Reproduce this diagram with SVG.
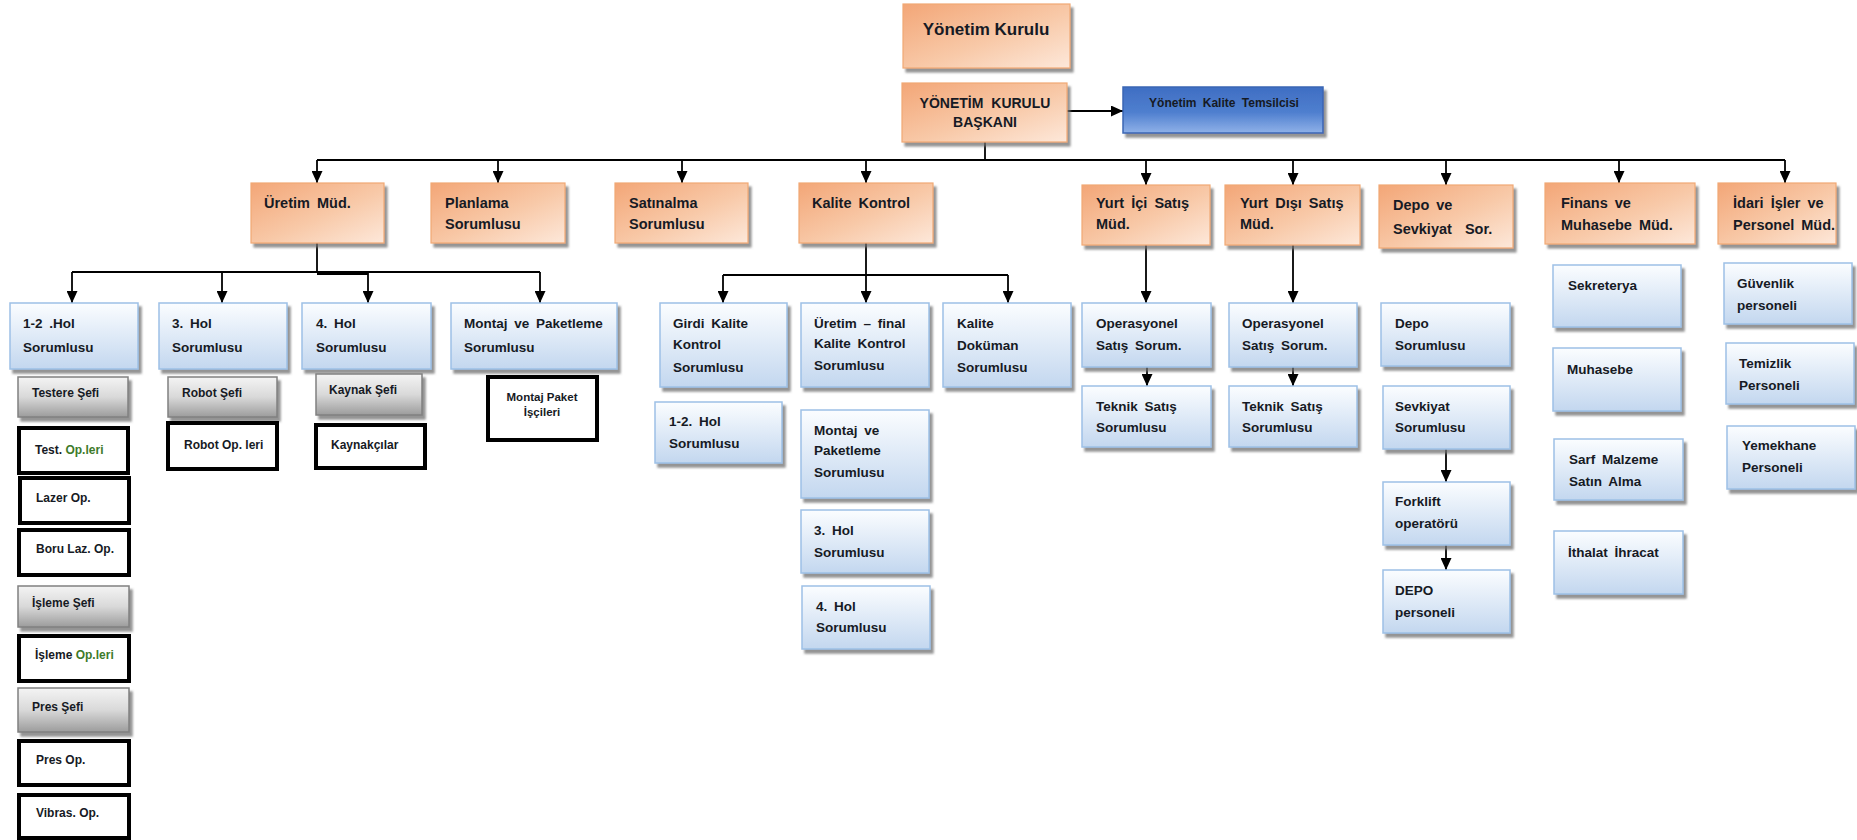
<svg xmlns="http://www.w3.org/2000/svg" width="1857" height="840" viewBox="0 0 1857 840">
<defs>
<linearGradient id="gOr" x1="0" y1="0" x2="1" y2="1">
<stop offset="0" stop-color="#f3a677"/>
<stop offset="0.55" stop-color="#f8c9a8"/>
<stop offset="1" stop-color="#fde8da"/>
</linearGradient>
<linearGradient id="gBl" x1="0" y1="0" x2="0" y2="1">
<stop offset="0" stop-color="#fbfdff"/>
<stop offset="1" stop-color="#c3d7ef"/>
</linearGradient>
<linearGradient id="gGr" x1="0" y1="0" x2="0" y2="1">
<stop offset="0" stop-color="#f4f4f4"/>
<stop offset="0.5" stop-color="#d9d9d9"/>
<stop offset="1" stop-color="#9c9c9c"/>
</linearGradient>
<linearGradient id="gDb" x1="0" y1="0" x2="0" y2="1">
<stop offset="0" stop-color="#3f6ec3"/>
<stop offset="0.55" stop-color="#4f7fcf"/>
<stop offset="1" stop-color="#8fb1e8"/>
</linearGradient>
<filter id="sh" x="-10%" y="-10%" width="130%" height="140%">
<feDropShadow dx="3" dy="4" stdDeviation="1.2" flood-color="#6f6f6f" flood-opacity="0.75"/>
</filter>
<marker id="ar" viewBox="0 0 12 11" refX="12" refY="5.5" markerUnits="userSpaceOnUse" markerWidth="12" markerHeight="11" orient="auto">
<path d="M0,0 L12,5.5 L0,11 z" fill="#000"/>
</marker>
<style>
text{font-family:"Liberation Sans",Arial,sans-serif;font-weight:bold;fill:#161a24}
.or{fill:url(#gOr);stroke:#f1a874;stroke-width:1.2;filter:url(#sh)}
.bl{fill:url(#gBl);stroke:#9dc0e6;stroke-width:1.5;filter:url(#sh)}
.gr{fill:url(#gGr);stroke:#808080;stroke-width:1.5;filter:url(#sh)}
.bk{fill:#fff;stroke:#000;stroke-width:4}
.db{fill:url(#gDb);stroke:#3a66b4;stroke-width:1.5;filter:url(#sh)}
.to{font-size:14.5px;word-spacing:3px}
.tb{font-size:13.5px;word-spacing:3px}
.ts{font-size:12px}
.c{stroke:#000;stroke-width:1.8;fill:none}
.ca{stroke:#000;stroke-width:1.8;fill:none;marker-end:url(#ar)}
</style>
</defs>

<g id="connectors">
<line class="ca" x1="1067" y1="111" x2="1123" y2="111"/>
<line class="c" x1="985" y1="142" x2="985" y2="160"/>
<line class="c" x1="317" y1="160" x2="1785" y2="160"/>
<line class="ca" x1="317" y1="160" x2="317" y2="183"/>
<line class="ca" x1="498" y1="160" x2="498" y2="183"/>
<line class="ca" x1="682" y1="160" x2="682" y2="183"/>
<line class="ca" x1="866" y1="160" x2="866" y2="183"/>
<line class="ca" x1="1146" y1="160" x2="1146" y2="185"/>
<line class="ca" x1="1293" y1="160" x2="1293" y2="185"/>
<line class="ca" x1="1446" y1="160" x2="1446" y2="185"/>
<line class="ca" x1="1619" y1="160" x2="1619" y2="183"/>
<line class="ca" x1="1785" y1="160" x2="1785" y2="183"/>
<line class="c" x1="317" y1="243" x2="317" y2="272"/>
<line class="c" x1="72" y1="272" x2="540" y2="272"/>
<line class="c" x1="317" y1="274" x2="368" y2="274"/>
<line class="ca" x1="72" y1="272" x2="72" y2="303"/>
<line class="ca" x1="222" y1="272" x2="222" y2="303"/>
<line class="ca" x1="368" y1="272" x2="368" y2="303"/>
<line class="ca" x1="540" y1="272" x2="540" y2="303"/>
<line class="c" x1="866" y1="243" x2="866" y2="275"/>
<line class="c" x1="723" y1="275" x2="1008" y2="275"/>
<line class="ca" x1="723" y1="275" x2="723" y2="303"/>
<line class="ca" x1="866" y1="275" x2="866" y2="303"/>
<line class="ca" x1="1008" y1="275" x2="1008" y2="303"/>
<line class="ca" x1="1146" y1="245" x2="1146" y2="303"/>
<line class="ca" x1="1293" y1="245" x2="1293" y2="303"/>
<line class="ca" x1="1147" y1="367" x2="1147" y2="386"/>
<line class="ca" x1="1293" y1="367" x2="1293" y2="386"/>
<line class="ca" x1="1446" y1="449" x2="1446" y2="482"/>
<line class="ca" x1="1446" y1="545" x2="1446" y2="570"/>
</g>

<g id="yonetim-kurulu"><rect class="or" x="903" y="4" width="167" height="64"/><text x="986" y="35" text-anchor="middle" font-size="17">Yönetim Kurulu</text></g>
<g id="baskan"><rect class="or" x="902" y="83" width="165" height="59"/><text x="985" y="108" text-anchor="middle" font-size="14" word-spacing="4"><tspan x="985">YÖNETİM KURULU</tspan><tspan x="985" y="127">BAŞKANI</tspan></text></g>
<g id="kalite-temsilcisi"><rect class="db" x="1123" y="87" width="200" height="46"/><text x="1224" y="107" text-anchor="middle" font-size="12" word-spacing="3">Yönetim Kalite Temsilcisi</text></g>

<g id="uretim-mud"><rect class="or" x="251" y="183" width="133" height="60"/><text class="to" x="264" y="208">Üretim Müd.</text></g>
<g id="planlama"><rect class="or" x="431" y="183" width="134" height="60"/><text class="to" x="445" y="208">Planlama<tspan x="445" y="229">Sorumlusu</tspan></text></g>
<g id="satinalma"><rect class="or" x="615" y="183" width="133" height="60"/><text class="to" x="629" y="208">Satınalma<tspan x="629" y="229">Sorumlusu</tspan></text></g>
<g id="kalite-kontrol"><rect class="or" x="799" y="183" width="134" height="60"/><text class="to" x="812" y="208">Kalite Kontrol</text></g>
<g id="yurt-ici"><rect class="or" x="1082" y="185" width="128" height="60"/><text class="to" x="1096" y="208">Yurt İçi Satış<tspan x="1096" y="229">Müd.</tspan></text></g>
<g id="yurt-disi"><rect class="or" x="1225" y="185" width="135" height="60"/><text class="to" x="1240" y="208">Yurt Dışı Satış<tspan x="1240" y="229">Müd.</tspan></text></g>
<g id="depo-sevkiyat"><rect class="or" x="1379" y="185" width="134" height="63"/><text class="to" x="1393" y="210">Depo ve<tspan x="1393" y="234" word-spacing="9">Sevkiyat Sor.</tspan></text></g>
<g id="finans"><rect class="or" x="1545" y="183" width="150" height="61"/><text class="to" x="1561" y="208">Finans ve<tspan x="1561" y="230">Muhasebe Müd.</tspan></text></g>
<g id="idari"><rect class="or" x="1718" y="183" width="118" height="61"/><text class="to" x="1733" y="208">İdari İşler ve<tspan x="1733" y="230">Personel Müd.</tspan></text></g>

<g id="hol12"><rect class="bl" x="10" y="303" width="128" height="66"/><text class="tb" x="23" y="328">1-2 .Hol<tspan x="23" y="352">Sorumlusu</tspan></text></g>
<g id="hol3"><rect class="bl" x="159" y="303" width="128" height="66"/><text class="tb" x="172" y="328">3. Hol<tspan x="172" y="352">Sorumlusu</tspan></text></g>
<g id="hol4"><rect class="bl" x="302" y="303" width="129" height="66"/><text class="tb" x="316" y="328">4. Hol<tspan x="316" y="352">Sorumlusu</tspan></text></g>
<g id="montaj-paketleme"><rect class="bl" x="451" y="303" width="166" height="66"/><text class="tb" x="464" y="328">Montaj ve Paketleme<tspan x="464" y="352">Sorumlusu</tspan></text></g>

<g id="testere-sefi"><rect class="gr" x="18" y="377" width="110" height="40"/><text class="ts" x="32" y="397">Testere Şefi</text></g>
<g id="test-opleri"><rect class="bk" x="19" y="428" width="109" height="45"/><text class="ts" x="35" y="454">Test. <tspan fill="#3d7a2a">Op.leri</tspan></text></g>
<g id="lazer-op"><rect class="bk" x="20" y="478" width="109" height="45"/><text class="ts" x="36" y="502">Lazer Op.</text></g>
<g id="boru-laz-op"><rect class="bk" x="19" y="530" width="110" height="45"/><text class="ts" x="36" y="553">Boru Laz. Op.</text></g>
<g id="isleme-sefi"><rect class="gr" x="18" y="586" width="111" height="41"/><text class="ts" x="32" y="607">İşleme Şefi</text></g>
<g id="isleme-opleri"><rect class="bk" x="19" y="636" width="110" height="45"/><text class="ts" x="35" y="659">İşleme <tspan fill="#3d7a2a">Op.leri</tspan></text></g>
<g id="pres-sefi"><rect class="gr" x="18" y="688" width="111" height="44"/><text class="ts" x="32" y="711">Pres Şefi</text></g>
<g id="pres-op"><rect class="bk" x="19" y="741" width="110" height="44"/><text class="ts" x="36" y="764">Pres Op.</text></g>
<g id="vibras-op"><rect class="bk" x="19" y="795" width="110" height="43"/><text class="ts" x="36" y="817">Vibras. Op.</text></g>

<g id="robot-sefi"><rect class="gr" x="168" y="377" width="109" height="40"/><text class="ts" x="182" y="397">Robot Şefi</text></g>
<g id="robot-opleri"><rect class="bk" x="168" y="423" width="109" height="46"/><text class="ts" x="184" y="449">Robot Op. leri</text></g>
<g id="kaynak-sefi"><rect class="gr" x="316" y="374" width="106" height="41"/><text class="ts" x="329" y="394">Kaynak Şefi</text></g>
<g id="kaynakcilar"><rect class="bk" x="316" y="425" width="109" height="43"/><text class="ts" x="331" y="449">Kaynakçılar</text></g>
<g id="montaj-paket-iscileri"><rect class="bk" x="488" y="377" width="109" height="63"/><text x="542" y="401" text-anchor="middle" font-size="11.5">Montaj Paket<tspan x="542" y="416">İşçileri</tspan></text></g>

<g id="girdi-kalite"><rect class="bl" x="660" y="303" width="127" height="84"/><text class="tb" x="673" y="328">Girdi Kalite<tspan x="673" y="349">Kontrol</tspan><tspan x="673" y="372">Sorumlusu</tspan></text></g>
<g id="uretim-final"><rect class="bl" x="801" y="303" width="128" height="84"/><text class="tb" x="814" y="328" word-spacing="2">Üretim – final<tspan x="814" y="348">Kalite Kontrol</tspan><tspan x="814" y="370">Sorumlusu</tspan></text></g>
<g id="kalite-dokuman"><rect class="bl" x="943" y="303" width="128" height="84"/><text class="tb" x="957" y="328">Kalite<tspan x="957" y="350">Doküman</tspan><tspan x="957" y="372">Sorumlusu</tspan></text></g>
<g id="kk-hol12"><rect class="bl" x="655" y="402" width="127" height="61"/><text class="tb" x="669" y="426">1-2. Hol<tspan x="669" y="448">Sorumlusu</tspan></text></g>
<g id="kk-montaj"><rect class="bl" x="801" y="410" width="128" height="88"/><text class="tb" x="814" y="435">Montaj ve<tspan x="814" y="455">Paketleme</tspan><tspan x="814" y="477">Sorumlusu</tspan></text></g>
<g id="kk-hol3"><rect class="bl" x="801" y="510" width="128" height="63"/><text class="tb" x="814" y="535">3. Hol<tspan x="814" y="557">Sorumlusu</tspan></text></g>
<g id="kk-hol4"><rect class="bl" x="802" y="586" width="128" height="63"/><text class="tb" x="816" y="611">4. Hol<tspan x="816" y="632">Sorumlusu</tspan></text></g>

<g id="op-satis-1"><rect class="bl" x="1082" y="303" width="129" height="64"/><text class="tb" x="1096" y="328">Operasyonel<tspan x="1096" y="350">Satış Sorum.</tspan></text></g>
<g id="teknik-satis-1"><rect class="bl" x="1082" y="386" width="129" height="61"/><text class="tb" x="1096" y="411" word-spacing="8">Teknik Satış<tspan x="1096" y="432" word-spacing="3">Sorumlusu</tspan></text></g>
<g id="op-satis-2"><rect class="bl" x="1229" y="303" width="128" height="64"/><text class="tb" x="1242" y="328">Operasyonel<tspan x="1242" y="350">Satış Sorum.</tspan></text></g>
<g id="teknik-satis-2"><rect class="bl" x="1229" y="386" width="128" height="61"/><text class="tb" x="1242" y="411" word-spacing="8">Teknik Satış<tspan x="1242" y="432" word-spacing="3">Sorumlusu</tspan></text></g>

<g id="depo-sorumlusu"><rect class="bl" x="1381" y="303" width="129" height="63"/><text class="tb" x="1395" y="328">Depo<tspan x="1395" y="350">Sorumlusu</tspan></text></g>
<g id="sevkiyat-sorumlusu"><rect class="bl" x="1383" y="386" width="127" height="63"/><text class="tb" x="1395" y="411">Sevkiyat<tspan x="1395" y="432">Sorumlusu</tspan></text></g>
<g id="forklift"><rect class="bl" x="1383" y="482" width="127" height="63"/><text class="tb" x="1395" y="506">Forklift<tspan x="1395" y="528">operatörü</tspan></text></g>
<g id="depo-personeli"><rect class="bl" x="1383" y="570" width="127" height="63"/><text class="tb" x="1395" y="595">DEPO<tspan x="1395" y="617">personeli</tspan></text></g>

<g id="sekreterya"><rect class="bl" x="1553" y="265" width="128" height="62"/><text class="tb" x="1568" y="290">Sekreterya</text></g>
<g id="muhasebe"><rect class="bl" x="1553" y="348" width="128" height="63"/><text class="tb" x="1567" y="374">Muhasebe</text></g>
<g id="sarf-malzeme"><rect class="bl" x="1554" y="439" width="129" height="61"/><text class="tb" x="1569" y="464" word-spacing="4">Sarf Malzeme<tspan x="1569" y="486">Satın Alma</tspan></text></g>
<g id="ithalat"><rect class="bl" x="1554" y="531" width="129" height="63"/><text class="tb" x="1568" y="557" word-spacing="4">İthalat İhracat</text></g>

<g id="guvenlik"><rect class="bl" x="1724" y="263" width="128" height="61"/><text class="tb" x="1737" y="288">Güvenlik<tspan x="1737" y="310">personeli</tspan></text></g>
<g id="temizlik"><rect class="bl" x="1726" y="343" width="128" height="61"/><text class="tb" x="1739" y="368">Temizlik<tspan x="1739" y="390">Personeli</tspan></text></g>
<g id="yemekhane"><rect class="bl" x="1727" y="426" width="128" height="63"/><text class="tb" x="1742" y="450">Yemekhane<tspan x="1742" y="472">Personeli</tspan></text></g>
</svg>
